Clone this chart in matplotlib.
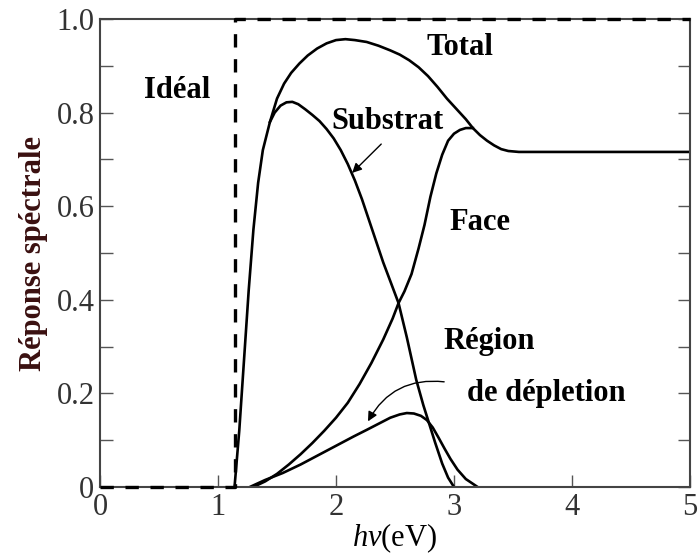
import matplotlib.pyplot as plt
from matplotlib.ticker import MultipleLocator

plt.rcParams['font.family'] = ['Liberation Serif', 'DejaVu Serif']
plt.rcParams['mathtext.fontset'] = 'custom'
plt.rcParams['mathtext.it'] = 'Liberation Serif:italic'
plt.rcParams['mathtext.rm'] = 'Liberation Serif'

# ideal response (step at the gap)
ideal_x = [0, 1.14, 1.14, 5]
ideal_y = [0, 0, 1.0, 1.0]

# total response
total_x = [1.14, 1.18, 1.22, 1.26, 1.30, 1.34, 1.38, 1.44, 1.50, 1.56, 1.62, 1.69, 1.76, 1.84,
           1.92, 2.00, 2.08, 2.16, 2.26, 2.36, 2.46, 2.54, 2.62, 2.70, 2.78, 2.86, 2.94, 3.02,
           3.10, 3.16, 3.22, 3.28, 3.34, 3.40, 3.46, 3.55, 4.0, 4.5, 5.0]
total_y = [0.0, 0.12, 0.27, 0.42, 0.55, 0.65, 0.72, 0.78, 0.83, 0.862, 0.885, 0.905, 0.922, 0.937,
           0.948, 0.955, 0.957, 0.955, 0.951, 0.943, 0.933, 0.924, 0.912, 0.897, 0.878, 0.855, 0.83, 0.808,
           0.786, 0.767, 0.752, 0.740, 0.730, 0.722, 0.718, 0.716, 0.716, 0.716, 0.716]

# substrate contribution
sub_x = [1.44, 1.48, 1.53, 1.58, 1.63, 1.68, 1.74, 1.80, 1.86, 1.92, 1.98, 2.04, 2.10, 2.16,
         2.22, 2.28, 2.34, 2.40, 2.46, 2.53, 2.60, 2.68, 2.74, 2.78, 2.84, 2.90, 2.95, 3.0]
sub_y = [0.78, 0.80, 0.815, 0.822, 0.823, 0.818, 0.807, 0.795, 0.782, 0.765, 0.745, 0.72, 0.69, 0.655,
         0.615, 0.57, 0.525, 0.48, 0.44, 0.393, 0.32, 0.229, 0.175, 0.143, 0.095, 0.05, 0.02, 0.0]

# front face contribution
face_x = [1.30, 1.40, 1.50, 1.60, 1.70, 1.80, 1.90, 2.0, 2.1, 2.2, 2.3, 2.4, 2.48, 2.53,
          2.58, 2.64, 2.70, 2.75, 2.80, 2.85, 2.90, 2.95, 3.0, 3.05, 3.10, 3.16]
face_y = [0.0, 0.012, 0.028, 0.048, 0.07, 0.094, 0.12, 0.148, 0.18, 0.22, 0.265, 0.315, 0.36, 0.393,
          0.418, 0.455, 0.51, 0.56, 0.62, 0.67, 0.71, 0.74, 0.755, 0.763, 0.767, 0.767]

# depletion region contribution
dep_x = [1.27, 1.40, 1.55, 1.70, 1.85, 2.0, 2.15, 2.26, 2.36, 2.46, 2.54, 2.60, 2.66, 2.72,
         2.77, 2.82, 2.87, 2.92, 2.97, 3.03, 3.10, 3.2]
dep_y = [0.0, 0.015, 0.03, 0.048, 0.068, 0.088, 0.108, 0.122, 0.135, 0.148, 0.155, 0.158, 0.157, 0.152,
         0.143, 0.127, 0.105, 0.082, 0.06, 0.037, 0.017, 0.0]

fig = plt.figure(figsize=(6.98, 5.60), dpi=100)
ax = fig.add_axes([0.1433, 0.1304, 0.8452, 0.8356])

lw = 1.9
ax.plot(ideal_x, ideal_y, color='black', lw=2.4, linestyle=(0, (4, 3.5)), clip_on=False, zorder=4)
ax.plot(total_x, total_y, color='black', lw=lw)
ax.plot(sub_x, sub_y, color='black', lw=lw)
ax.plot(face_x, face_y, color='black', lw=lw)
ax.plot(dep_x, dep_y, color='black', lw=lw)

fs = 22
ax.text(0.65, 0.848, 'Idéal', fontsize=fs, fontweight='bold', ha='center', va='center')
ax.text(3.05, 0.94, 'Total', fontsize=fs, fontweight='bold', ha='center', va='center')
ax.text(2.44, 0.78, 'Substrat', fontsize=fs, fontweight='bold', ha='center', va='center')
ax.text(3.22, 0.566, 'Face', fontsize=fs, fontweight='bold', ha='center', va='center')
ax.text(2.91, 0.31, 'Région', fontsize=fs, fontweight='bold', ha='left', va='center')
ax.text(3.11, 0.20, 'de dépletion', fontsize=fs, fontweight='bold', ha='left', va='center')

ax.annotate('', xy=(2.12, 0.667), xytext=(2.40, 0.737),
            arrowprops=dict(arrowstyle='-|>', color='black', lw=1.0, mutation_scale=14))
ax.annotate('', xy=(2.26, 0.135), xytext=(2.94, 0.224),
            arrowprops=dict(arrowstyle='-|>', color='black', lw=1.0, mutation_scale=14,
                            connectionstyle='arc3,rad=0.35'))

ax.set_xlim(0, 5)
ax.set_ylim(0, 1.0)
ax.set_xticks([0, 1, 2, 3, 4, 5])
ax.set_yticks([0, 0.2, 0.4, 0.6, 0.8, 1.0])
ax.set_yticklabels(['0', '0.2', '0.4', '0.6', '0.8', '1.0'])
ax.yaxis.set_minor_locator(MultipleLocator(0.1))
ax.tick_params(which='both', direction='in', length=9, width=1.0, right=True,
               labelsize=22, labelcolor='#333333', color='#555555', pad=4)
for side in ['left', 'bottom', 'right', 'top']:
    ax.spines[side].set_linewidth(1.5)
    ax.spines[side].set_color('#444444')

ax.set_xlabel(r'$h\nu$(eV)', fontsize=22, labelpad=0)
ax.set_ylabel('Réponse spéctrale', fontsize=22, fontweight='bold', color='#3a1010', labelpad=6)

plt.savefig('out.png', dpi=100)
